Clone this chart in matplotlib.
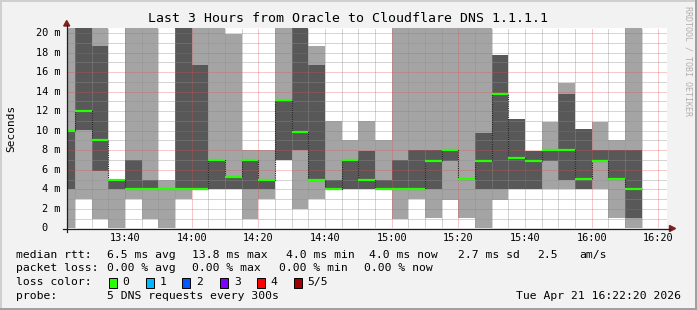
import matplotlib
matplotlib.use('Agg')
from matplotlib import pyplot as plt
from matplotlib.lines import Line2D
from matplotlib.patches import Rectangle, Polygon
import numpy as np

# ---- smoke data: 5 DNS requests every 300 s, sorted per step (ms)
# values above the top of the graph are clipped like rrdtool does
first_step = 13*60 + 20      # start of the first 5 min step (minutes of day)
step_min = 5
ping1 = [0, 3, 1, 0, 3, 1, 0, 3, 4, 4, 4, 1, 3, 7, 2, 3, 4, 4, 4, 4,
         1, 3, 1.1, 2.9, 1.1, 0, 2.9, 4, 4, 4, 4, 4, 4, 1.1, 0]
ping2 = [4, 10.1, 5.9, 4, 4, 4, 4, 4, 4, 4, 4, 4, 4, 7, 8, 5, 4, 4, 4, 4,
         4, 4, 4, 6.9, 5.1, 4, 4, 4, 4, 6.9, 5, 4, 6.9, 5.06, 1.1]
median = [10, 12, 9, 5, 4, 4, 4, 4, 4, 7, 5.3, 7, 5, 13.1, 9.9, 5, 4, 7, 5, 4,
          4, 4, 6.9, 8, 5.1, 6.9, 13.8, 7.25, 6.9, 8, 8, 5.06, 6.9, 5.06, 4]
ping4 = [10, 25, 18.7, 5, 7, 5, 4, 25, 16.7, 7, 5.3, 7, 5, 13.1, 25, 16.75, 5, 7, 7.9, 5,
         7, 8, 8, 8, 5.1, 9.8, 17.8, 11.2, 7.9, 8, 13.8, 10.2, 8, 8, 8]
ping5 = [25, 25, 25, 5, 25, 25, 5, 25, 25, 25, 19.9, 8, 8, 25, 25, 18.7, 11, 9, 11, 9,
         25, 25, 25, 25, 25, 25, 17.8, 11.2, 7.9, 10.9, 14.9, 10.2, 10.9, 9.06, 25]

xtick_min = [820, 840, 860, 880, 900, 920, 940, 960, 980]
xtick_lab = ['13:40', '14:00', '14:20', '14:40', '15:00', '15:20', '15:40', '16:00', '16:20']
ytick_val = [0, 2, 4, 6, 8, 10, 12, 14, 16, 18, 20]
ytick_lab = ['0', '2 m', '4 m', '6 m', '8 m', '10 m', '12 m', '14 m', '16 m', '18 m', '20 m']

title = 'Last 3 Hours from Oracle to Cloudflare DNS 1.1.1.1'
rtt_items = ['median rtt:', '6.5 ms avg', '13.8 ms max', '4.0 ms min', '4.0 ms now',
             '2.7 ms sd', '2.5', 'am/s']
loss_items = ['packet loss:', '0.00 % avg', '0.00 % max', '0.00 % min', '0.00 % now']
loss_labels = ['0', '1', '2', '3', '4', '5/5']
loss_colors = ['#26ff00', '#00b8ff', '#0059ff', '#7e00ff', '#ff0000', '#a10000']
probe_text = '5 DNS requests every 300s'
stamp = 'Tue Apr 21 16:22:20 2026'

# ------------------------------------------------------------------------------
W, H = 697, 310
MONO = 'DejaVu Sans Mono'
GRID = (0.56, 0.56, 0.56, 0.75)
MGRID = (0.87, 0.31, 0.31, 0.60)

def fx(x):
    return x/W

def fy(y):
    return 1 - y/H

fig = plt.figure(figsize=(W/100, H/100), dpi=100, facecolor='#f2f2f2')
ax = fig.add_axes([fx(66.7), fy(228.3), 600/W, 200/H])
ax.set_facecolor('white')
ax.set_xlim(802.5, 982.5)
ax.set_ylim(0, 20.5)
for s in ax.spines.values():
    s.set_visible(False)
ax.set_xticks([])
ax.set_yticks([])

n = len(median)
x0 = first_step + step_min*np.arange(n)
p1 = np.array(ping1); p2 = np.array(ping2); p4 = np.array(ping4); p5 = np.array(ping5)
med = np.array(median)

# smoke: outer pair light, inner pair dark
ax.bar(x0, p5 - p1, bottom=p1, width=step_min, align='edge', color='#a4a4a4', lw=0, zorder=1)
ax.bar(x0, p4 - p2, bottom=p2, width=step_min, align='edge', color='#585858', lw=0, zorder=1.1)

# grid on top of the smoke
dots = (0, (1, 1))
for m in range(805, 985, 5):
    ax.axvline(m, color=MGRID if m in xtick_min else GRID, lw=0.72, ls=dots, zorder=2)
for v in range(1, 21):
    ax.axhline(v, color=MGRID if v % 2 == 0 else GRID, lw=0.72, ls=dots, zorder=2)

# median line: dotted steps + loss coloured segments
edges = np.append(x0, x0[-1] + step_min)
ax.stairs(med, edges, baseline=None, color='#202020', lw=0.8, ls=dots, zorder=3)
ax.hlines(med, x0, x0 + step_min, color=loss_colors[0], lw=1.6, zorder=4)

# axes lines and arrows
fig.add_artist(Line2D([fx(62.7), fx(670)], [fy(228.5), fy(228.5)], color='#1f1f1f', lw=0.9))
fig.add_artist(Line2D([fx(66.7), fx(66.7)], [fy(231.5), fy(25)], color='#1f1f1f', lw=0.9))
fig.add_artist(Polygon([[fx(669.5), fy(225.5)], [fx(669.5), fy(231.5)], [fx(675.5), fy(228.5)]],
                       closed=True, color='#801f1f', transform=fig.transFigure))
fig.add_artist(Polygon([[fx(63.7), fy(26)], [fx(69.7), fy(26)], [fx(66.7), fy(20.5)]],
                       closed=True, color='#801f1f', transform=fig.transFigure))

# tick labels
cw = 6.2
for v, lab in zip(ytick_val, ytick_lab):
    yy = 228.3 - v*200/20.5
    xr = 60 - (2*cw if ' ' not in lab else 0)
    fig.text(fx(xr), fy(yy), lab, ha='right', va='center', family=MONO, fontsize=7.4)
for m, lab in zip(xtick_min, xtick_lab):
    xx = 66.7 + (m - 802.5)*600/180
    fig.text(fx(xx), fy(238), lab, ha='center', va='center', family=MONO, fontsize=7.4)

fig.text(fx(348), fy(19), title, ha='center', va='center', family=MONO, fontsize=9.5)
fig.text(fx(11), fy(128), 'Seconds', ha='center', va='center', rotation=90,
         family=MONO, fontsize=8)
fig.text(fx(688), fy(6), 'RRDTOOL / TOBI OETIKER', ha='center', va='top', rotation=270,
         family=MONO, fontsize=6, color='#b0b0b0')

# legend rows
rtt_x = [16, 107, 192.4, 285.8, 368.9, 457.8, 536.9, 579.1]
for xx, t in zip(rtt_x, rtt_items):
    fig.text(fx(xx), fy(255), t, ha='left', va='center', family=MONO, fontsize=8.2)
loss_x = [16, 107, 192.4, 279.1, 364.4]
for xx, t in zip(loss_x, loss_items):
    fig.text(fx(xx), fy(268), t, ha='left', va='center', family=MONO, fontsize=8.2)
fig.text(fx(16), fy(282), 'loss color:', ha='left', va='center', family=MONO, fontsize=8.2)
box_x = [108.5, 145.5, 182.4, 219.8, 256.6, 293.5]
for bx, lab, col in zip(box_x, loss_labels, loss_colors):
    fig.add_artist(Rectangle((fx(bx), fy(287.5)), 8/W, 10/H, facecolor=col,
                             edgecolor='black', lw=0.7, transform=fig.transFigure))
    fig.text(fx(bx + 14.2), fy(282), lab, ha='left', va='center', family=MONO, fontsize=8.2)
fig.text(fx(16), fy(296), 'probe:', ha='left', va='center', family=MONO, fontsize=8.2)
fig.text(fx(107), fy(296), probe_text, ha='left', va='center', family=MONO, fontsize=8.2)
fig.text(fx(680.5), fy(296), stamp, ha='right', va='center', family=MONO, fontsize=8.2)

# frame shading
fig.add_artist(Line2D([0, 1], [fy(0.7), fy(0.7)], color='#cfcfcf', lw=1.4))
fig.add_artist(Line2D([fx(0.7), fx(0.7)], [0, 1], color='#cfcfcf', lw=1.4))
fig.add_artist(Line2D([0, 1], [fy(309.3), fy(309.3)], color='#9e9e9e', lw=1.4))
fig.add_artist(Line2D([fx(696.3), fx(696.3)], [0, 1], color='#9e9e9e', lw=1.4))

fig.savefig('out.png', dpi=100, facecolor=fig.get_facecolor())
